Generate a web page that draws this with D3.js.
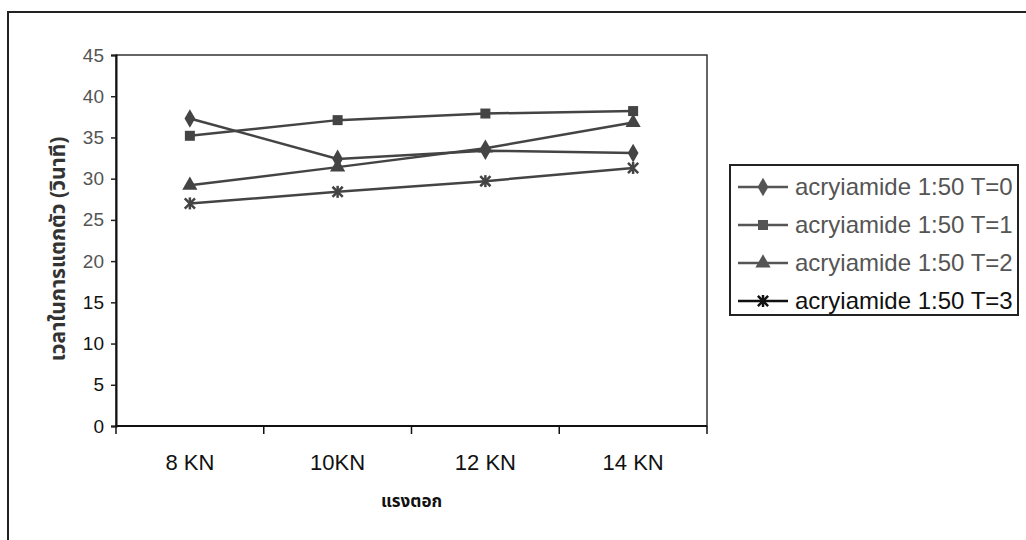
<!DOCTYPE html>
<html>
<head>
<meta charset="utf-8">
<script src="https://cdn.jsdelivr.net/npm/d3@7"></script>
<style>
  body { margin: 0; background: #fff; }
  svg { display: block; font-family: "Liberation Sans", Arial, sans-serif; }
</style>
</head>
<body>
<svg id="chart" width="1026" height="540"></svg>
<script>
// categories (compression force) and disintegration times
const categories = ["8 KN", "10KN", "12 KN", "14 KN"];
const seriesNames = [
  "acryiamide 1:50 T=0",
  "acryiamide 1:50 T=1",
  "acryiamide 1:50 T=2",
  "acryiamide 1:50 T=3"
];
const t0 = [37.3, 32.4, 33.4, 33.1];
const t1 = [35.2, 37.1, 37.9, 38.2];
const t2 = [29.2, 31.4, 33.7, 36.8];
const t3 = [27.0, 28.4, 29.7, 31.3];
const yTicks = [0, 5, 10, 15, 20, 25, 30, 35, 40, 45];

const svg = d3.select("#chart");
const plot = { left: 116, right: 707, top: 55, bottom: 426 };

const x = d3.scaleBand().domain(categories).range([plot.left, plot.right]);
const y = d3.scaleLinear().domain([0, 45]).range([plot.bottom, plot.top]);

// outer chart frame (runs off the right and bottom edges)
svg.append("rect")
  .attr("x", 8).attr("y", 12)
  .attr("width", 1040).attr("height", 560)
  .attr("fill", "none").attr("stroke", "#222").attr("stroke-width", 2);

// plot area border
svg.append("rect")
  .attr("x", plot.left).attr("y", plot.top)
  .attr("width", plot.right - plot.left).attr("height", plot.bottom - plot.top)
  .attr("fill", "none").attr("stroke", "#333").attr("stroke-width", 1.5);

// y axis
const yAxis = svg.append("g")
  .attr("transform", `translate(${plot.left},0)`)
  .call(d3.axisLeft(y).tickValues(yTicks).tickSize(5).tickPadding(7));
yAxis.select(".domain").attr("stroke", "#111").attr("stroke-width", 2);
yAxis.selectAll(".tick line").attr("stroke", "#222").attr("stroke-width", 1.5);
yAxis.selectAll(".tick text")
  .style("font-size", "19px")
  .attr("fill", d => d >= 20 ? "#555" : "#111");

// x axis: ticks at category boundaries
const xAxis = svg.append("g")
  .attr("transform", `translate(0,${plot.bottom})`);
xAxis.append("line")
  .attr("x1", plot.left).attr("x2", plot.right)
  .attr("stroke", "#111").attr("stroke-width", 2);
const bounds = categories.map(c => x(c)).concat([x.range()[1]]);
xAxis.selectAll(".xtick").data(bounds).enter().append("line")
  .attr("class", "xtick")
  .attr("x1", d => d).attr("x2", d => d)
  .attr("y1", 0).attr("y2", 8)
  .attr("stroke", "#111").attr("stroke-width", 1.5);
xAxis.selectAll(".xlabel").data(categories).enter().append("text")
  .attr("class", "xlabel")
  .attr("x", d => x(d) + x.bandwidth() / 2)
  .attr("y", 44)
  .attr("text-anchor", "middle")
  .style("font-size", "22px")
  .attr("fill", "#111")
  .text(d => d);

// axis titles
const thaiFont = '"Noto Sans Thai", "Noto Sans", "DejaVu Sans", sans-serif';
svg.append("text")
  .attr("x", (plot.left + plot.right) / 2).attr("y", 507)
  .attr("text-anchor", "middle")
  .style("font-family", thaiFont).style("font-size", "17px").style("font-weight", "bold")
  .attr("fill", "#111")
  .text("แรงตอก");
svg.append("text")
  .attr("transform", "translate(65,249) rotate(-90)")
  .attr("text-anchor", "middle")
  .style("font-family", thaiFont).style("font-size", "21px").style("font-weight", "bold")
  .attr("fill", "#333")
  .text("เวลาในการแตกตัว (วินาที)");

// series
const series = [
  { name: seriesNames[0], values: t0, symbol: d3.symbolDiamond, size: 100 },
  { name: seriesNames[1], values: t1, symbol: d3.symbolSquare, size: 100 },
  { name: seriesNames[2], values: t2, symbol: d3.symbolTriangle, size: 100 },
  { name: seriesNames[3], values: t3, symbol: d3.symbolTimes, size: 70 }
];
const lineColor = "#444";
const line = d3.line()
  .x((d, i) => x(categories[i]) + x.bandwidth() / 2)
  .y(d => y(d));

function drawMarker(g, s, color) {
  if (s.symbol === d3.symbolTimes) {
    g.append("path").attr("d", d3.symbol(d3.symbolTimes, s.size)())
      .attr("fill", "none").attr("stroke", color).attr("stroke-width", 2.5);
    g.append("line").attr("y1", -6).attr("y2", 6)
      .attr("stroke", color).attr("stroke-width", 2.5);
  } else {
    g.append("path").attr("d", d3.symbol(s.symbol, s.size)())
      .attr("fill", color);
  }
}

series.forEach(s => {
  svg.append("path")
    .datum(s.values)
    .attr("d", line)
    .attr("fill", "none")
    .attr("stroke", lineColor)
    .attr("stroke-width", 2.5);
  s.values.forEach((v, i) => {
    const g = svg.append("g")
      .attr("transform", `translate(${x(categories[i]) + x.bandwidth() / 2},${y(v)})`);
    drawMarker(g, s, lineColor);
  });
});

// legend
const legend = svg.append("g");
legend.append("rect")
  .attr("x", 730).attr("y", 165).attr("width", 288).attr("height", 150)
  .attr("fill", "#fff").attr("stroke", "#222").attr("stroke-width", 2);
series.forEach((s, i) => {
  const ly = 187 + i * 38;
  const c = i === 3 ? "#111" : "#555";
  const row = legend.append("g");
  row.append("line")
    .attr("x1", 738).attr("x2", 788).attr("y1", ly).attr("y2", ly)
    .attr("stroke", c).attr("stroke-width", 2.5);
  const mg = row.append("g").attr("transform", `translate(763,${ly})`);
  drawMarker(mg, s, c);
  row.append("text")
    .attr("x", 795).attr("y", ly)
    .attr("dy", "0.35em")
    .style("font-size", "24px")
    .attr("fill", c)
    .text(s.name);
});
</script>
</body>
</html>
